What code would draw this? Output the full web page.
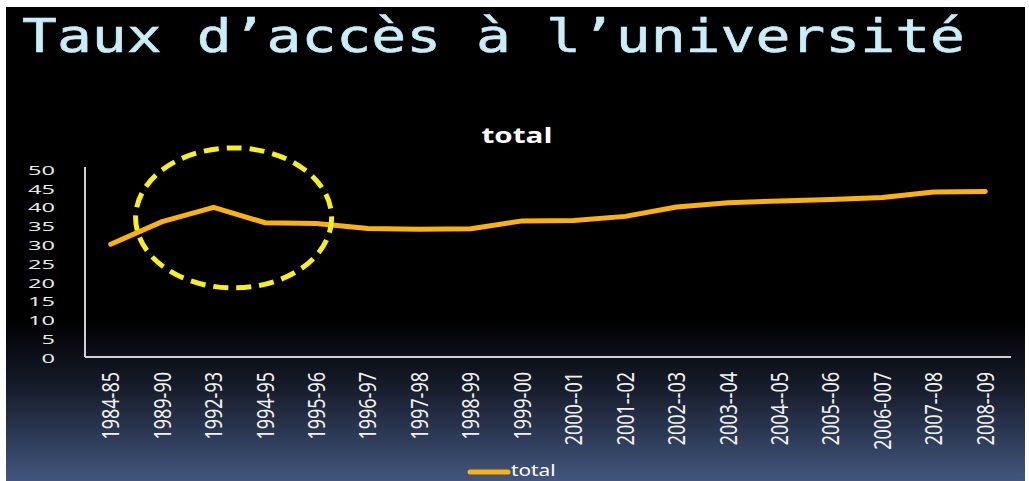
<!DOCTYPE html>
<html>
<head>
<meta charset="utf-8">
<script src="https://cdn.jsdelivr.net/npm/d3@7"></script>
<style>
  html, body { margin: 0; padding: 0; background: #fff; }
  svg { display: block; }
</style>
</head>
<body>
<div class="canvas"></div>
<script>
// data
const years = ["1984-85", "1989-90", "1992-93", "1994-95", "1995-96", "1996-97", "1997-98",
  "1998-99", "1999-00", "2000--01", "2001--02", "2002--03", "2003--04", "2004--05",
  "2005--06", "2006-007", "2007--08", "2008--09"];
const total = [30.0, 36.0, 39.8, 35.7, 35.5, 34.2, 34.0, 34.1, 36.2, 36.3, 37.4, 39.9,
  41.0, 41.5, 41.9, 42.4, 43.9, 44.0];
const yTicks = [0, 5, 10, 15, 20, 25, 30, 35, 40, 45, 50];

const dims = { width: 1029, height: 481 };
const plot = { left: 85, right: 1011, top: 169, bottom: 357 };

const svg = d3
  .select(".canvas")
  .append("svg")
  .attr("width", dims.width)
  .attr("height", dims.height);

// slide background: black fading to slate blue
const defs = svg.append("defs");
const grad = defs
  .append("linearGradient")
  .attr("id", "bg")
  .attr("x1", 0).attr("y1", 0).attr("x2", 0).attr("y2", 1);
grad.append("stop").attr("offset", "0%").attr("stop-color", "#000");
grad.append("stop").attr("offset", "66%").attr("stop-color", "#000");
grad.append("stop").attr("offset", "80%").attr("stop-color", "#161c2a");
grad.append("stop").attr("offset", "100%").attr("stop-color", "#42567e");

svg.append("rect")
  .attr("x", 6).attr("y", 7)
  .attr("width", dims.width - 10).attr("height", dims.height - 7)
  .attr("fill", "url(#bg)");

// slide title
svg.append("text")
  .attr("x", 22)
  .attr("y", 52)
  .attr("textLength", 943)
  .attr("lengthAdjust", "spacingAndGlyphs")
  .attr("font-family", "'DejaVu Sans Mono', monospace")
  .attr("font-size", 47)
  .attr("fill", "#c9eef9")
  .attr("stroke", "#c9eef9")
  .attr("stroke-width", 0.6)
  .text("Taux d\u2019acc\u00e8s \u00e0 l\u2019universit\u00e9");

// chart title
svg.append("text")
  .attr("transform", "translate(517, 143) scale(1.35, 1)")
  .attr("text-anchor", "middle")
  .attr("font-family", "'Open Sans', sans-serif")
  .attr("font-weight", "bold")
  .attr("font-size", 22)
  .attr("fill", "#fff")
  .text("total");

// scales
const x = d3
  .scalePoint()
  .domain(years)
  .range([plot.left, plot.right])
  .padding(0.5);

const y = d3
  .scaleLinear()
  .domain([0, 50])
  .range([plot.bottom, plot.top]);

// axes lines
svg.append("line")
  .attr("x1", plot.left).attr("x2", plot.left)
  .attr("y1", y(50) - 2).attr("y2", y(0))
  .attr("stroke", "#d0d0d0").attr("stroke-width", 2);
svg.append("line")
  .attr("x1", plot.left).attr("x2", plot.right)
  .attr("y1", y(0)).attr("y2", y(0))
  .attr("stroke", "#d0d0d0").attr("stroke-width", 2);

// y tick labels (slide is stretched sideways)
svg.append("g")
  .selectAll("text")
  .data(yTicks)
  .enter()
  .append("text")
  .attr("transform", (d) => `translate(55, ${y(d) + 1}) scale(1.75, 1)`)
  .attr("text-anchor", "end")
  .attr("dy", "0.35em")
  .attr("font-family", "'Noto Sans', sans-serif")
  .attr("font-size", 13.5)
  .attr("fill", "#e6e6e6")
  .text((d) => d);

// x tick labels, rotated
svg.append("g")
  .selectAll("text")
  .data(years)
  .enter()
  .append("text")
  .attr("transform", (d) => `translate(${x(d)}, 372) scale(1.35, 1) rotate(-90)`)
  .attr("text-anchor", "end")
  .attr("dy", "0.35em")
  .attr("font-family", "'Noto Sans', sans-serif")
  .attr("font-size", 18)
  .attr("fill", "#f2f2f2")
  .text((d) => d);

// the line
const line = d3
  .line()
  .x((d, i) => x(years[i]))
  .y((d) => y(d));

svg.append("path")
  .datum(total)
  .attr("d", line)
  .attr("fill", "none")
  .attr("stroke", "#fbb30c")
  .attr("stroke-width", 5)
  .attr("stroke-linejoin", "round")
  .attr("stroke-linecap", "round");

// dashed highlight round the 1992-93 peak
svg.append("ellipse")
  .attr("cx", x("1992-93") + 20)
  .attr("cy", y(37))
  .attr("rx", 98)
  .attr("ry", 70)
  .attr("fill", "none")
  .attr("stroke", "#f6f01c")
  .attr("stroke-width", 5)
  .attr("stroke-dasharray", "15 8");

// legend at the bottom edge
const legend = svg.append("g").attr("transform", "translate(470, 472)");
legend.append("line")
  .attr("x1", 0).attr("x2", 38)
  .attr("stroke", "#fbb30c").attr("stroke-width", 5)
  .attr("stroke-linecap", "round");
legend.append("text")
  .attr("transform", "translate(41, 4) scale(1.3, 1)")
  .attr("font-family", "'Noto Sans', sans-serif")
  .attr("font-size", 16)
  .attr("fill", "#fff")
  .text("total");
</script>
</body>
</html>
